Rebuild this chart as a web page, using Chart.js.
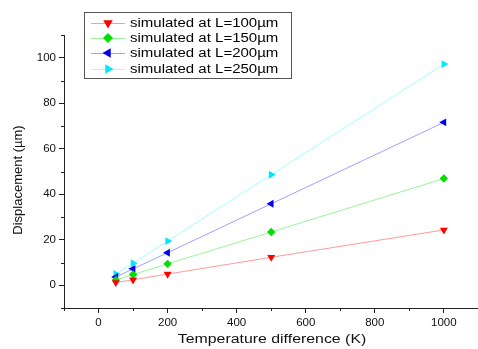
<!DOCTYPE html>
<html>
<head>
<meta charset="utf-8">
<script src="https://cdn.jsdelivr.net/npm/chart.js@4.4.0/dist/chart.umd.min.js"></script>
<style>
  html, body { margin: 0; padding: 0; background: #fff; overflow: hidden; }
  /* 5px wider than the window: Chart.js keeps a small right gap we don't want */
  #wrap { width: 483px; height: 349px; position: relative; }
</style>
</head>
<body>
<div id="wrap"><canvas id="chart"></canvas></div>
<script>
const tempDiff = [50, 100, 200, 500, 1000];
const dispL100 = [1.2, 2.4, 4.9, 12.3, 24.3];
const dispL150 = [2.3, 4.7, 9.4, 23.4, 46.9];
const dispL200 = [3.6, 7.2, 14.3, 35.8, 71.6];
const dispL250 = [4.9, 9.7, 19.4, 48.6, 97.2];
const seriesLabels = ['simulated at L=100µm', 'simulated at L=150µm', 'simulated at L=200µm', 'simulated at L=250µm'];
const xTicks = [0, 200, 400, 600, 800, 1000];
const yTicks = [0, 20, 40, 60, 80, 100];
const xTitle = 'Temperature difference (K)';
const yTitle = 'Displacement (µm)';

const FONT = '"Liberation Sans", Arial, sans-serif';

const styles = [
  { line: '#ff9a9a', fill: '#ff0000', shape: 'triangle', rot: 180 },
  { line: '#9af59a', fill: '#00e000', shape: 'rectRot', rot: 0 },
  { line: '#a0a0ff', fill: '#0000ee', shape: 'triangle', rot: -90 },
  { line: '#a0ffff', fill: '#00e8ff', shape: 'triangle', rot: 90 }
];

const series = [dispL100, dispL150, dispL200, dispL250];

const datasets = series.map((vals, i) => ({
  label: seriesLabels[i],
  data: tempDiff.map((x, j) => ({ x, y: vals[j] })),
  borderColor: styles[i].line,
  borderWidth: 1,
  backgroundColor: styles[i].fill,
  pointBackgroundColor: styles[i].fill,
  pointBorderColor: styles[i].fill,
  pointStyle: styles[i].shape,
  pointRotation: styles[i].rot,
  pointRadius: styles[i].shape === 'rectRot' ? 4.2 : 4.6,
  pointBorderWidth: 0,
  tension: 0,
  fill: false
}));

// stretched text, the original figure is a bit wider than tall
function wideText(c, txt, x, y, sx) {
  c.save();
  c.translate(x, y);
  c.scale(sx, 1);
  c.fillText(txt, 0, 0);
  c.restore();
}

// minor ticks, axis titles and legend drawn on the canvas
const extras = {
  id: 'extras',
  afterDraw(chart) {
    const c = chart.ctx;
    const xs = chart.scales.x, ys = chart.scales.y;
    c.save();
    c.strokeStyle = '#222';
    c.lineWidth = 1;
    c.beginPath();
    for (let v = -100; v <= 1100; v += 200) {
      const px = Math.round(xs.getPixelForValue(v)) + 0.5;
      c.moveTo(px, xs.top); c.lineTo(px, xs.top + 3);
    }
    for (let v = -10; v <= 110; v += 20) {
      const py = Math.round(ys.getPixelForValue(v)) + 0.5;
      c.moveTo(ys.right, py); c.lineTo(ys.right - 3, py);
    }
    c.stroke();

    // axis titles
    c.fillStyle = '#111';
    c.textBaseline = 'middle';
    c.textAlign = 'center';
    c.font = '12.5px ' + FONT;
    wideText(c, xTitle, 272, 340, 1.27);
    c.save();
    c.translate(18, 180);
    c.rotate(-Math.PI / 2);
    c.font = '13px ' + FONT;
    c.fillText(yTitle, 0, 0);
    c.restore();

    // legend box
    c.textAlign = 'left';
    c.strokeStyle = '#555';
    c.strokeRect(84.5, 12.5, 207, 66);
    c.font = '12px ' + FONT;
    const rowY = [23, 38, 53, 69];
    chart.data.datasets.forEach((ds, i) => {
      const y = rowY[i];
      c.strokeStyle = ds.borderColor;
      c.beginPath();
      c.moveTo(91, y + 0.5); c.lineTo(125, y + 0.5);
      c.stroke();
      c.fillStyle = ds.pointBackgroundColor;
      Chart.helpers.drawPoint(c, {
        pointStyle: ds.pointStyle,
        rotation: ds.pointRotation,
        radius: ds.pointStyle === 'rectRot' ? 5 : 5.5,
        borderWidth: 0
      }, 108, y);
      c.fillStyle = '#000';
      wideText(c, ds.label, 130, y + 1, 1.25);
    });
    c.restore();
  }
};

new Chart(document.getElementById('chart'), {
  type: 'line',
  data: { datasets },
  plugins: [extras],
  options: {
    responsive: true,
    maintainAspectRatio: false,
    animation: false,
    layout: { padding: { top: 35, right: 0, left: 0, bottom: 0 } },
    plugins: { legend: { display: false }, tooltip: { enabled: false } },
    scales: {
      x: {
        type: 'linear',
        min: -100,
        max: 1100,
        afterBuildTicks: s => { s.ticks = xTicks.map(v => ({ value: v })); },
        afterFit: s => { s.height = 41; },
        grid: { drawOnChartArea: false, tickLength: 5, color: '#222' },
        border: { color: '#222', width: 1 },
        ticks: { color: '#111', font: { family: FONT, size: 11.5 }, padding: 3, maxRotation: 0, callback: v => String(v) }
      },
      y: {
        min: -10,
        max: 110,
        afterBuildTicks: s => { s.ticks = yTicks.map(v => ({ value: v })); },
        afterFit: s => { s.width = 64; },
        grid: { drawOnChartArea: false, tickLength: 5, color: '#222' },
        border: { color: '#222', width: 1 },
        ticks: { color: '#111', font: { family: FONT, size: 11.5 }, padding: 3, callback: v => String(v) }
      }
    }
  }
});
</script>
</body>
</html>
